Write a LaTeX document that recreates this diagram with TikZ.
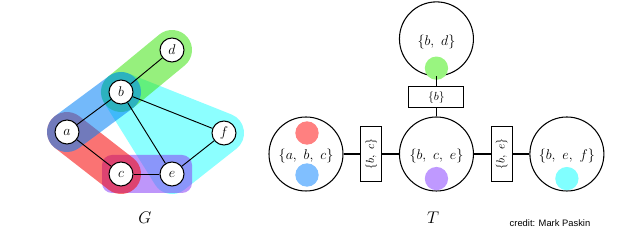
\documentclass[tikz,border=0pt]{standalone}
\usepackage{fontspec}
\newfontfamily\creditfont{Liberation Sans}
\usetikzlibrary{positioning}
\definecolor{hullcyan}{RGB}{140,255,255}
\definecolor{hullgreen}{RGB}{64,228,19}
\definecolor{hullblue}{RGB}{0,128,246}
\definecolor{hullred}{RGB}{246,0,0}
\definecolor{hullpurple}{RGB}{137,64,246}
\definecolor{dotgreen}{RGB}{153,245,128}
\definecolor{dotred}{RGB}{255,128,128}
\definecolor{dotblue}{RGB}{128,191,255}
\definecolor{dotpurple}{RGB}{191,153,255}
\definecolor{dotcyan}{RGB}{128,255,255}
\pgfdeclarelayer{background}
\pgfsetlayers{background,main}

\begin{document}
\begin{tikzpicture}[x=0.03cm,y=0.03cm,
    vertex/.style={circle, draw, line width=0.9pt, fill=white, inner sep=0pt, minimum size=0.72cm, font=\large},
    hull/.style={line width=1.2cm, line cap=round, line join=round, opacity=0.55},
    clique/.style={circle, draw, line width=0.9pt, inner sep=0pt, minimum size=2.22cm},
    sepset/.style={draw, rectangle, line width=0.9pt, inner sep=0pt, minimum width=1.65cm, minimum height=0.63cm},
    dot/.style={circle, inner sep=0pt, minimum size=0.7cm}]
    \useasboundingbox (0,0) rectangle (640,235);

    % Graph G
    \node[vertex] (d) at (172,185) {$d$};
    \node[vertex] (b) at (121,143) {$b$};
    \node[vertex] (a) at (67,103) {$a$};
    \node[vertex] (f) at (224,102) {$f$};
    \node[vertex] (c) at (121,61) {$c$};
    \node[vertex] (e) at (172,61) {$e$};
    \node[font=\Large] (glabel) at (145,17) {$G$};

    % Cliques
    \begin{pgfonlayer}{background}
        \filldraw[hull, opacity=1, draw=hullcyan, fill=hullcyan] (b.center) -- (f.center) -- (e.center) -- cycle;
        \fill[hullpurple, rounded corners=0.3cm, opacity=0.55]
            ([shift={(-19,-19)}]c.center) rectangle ([shift={(20,19)}]e.center);
        \draw[hull, hullred] (a.center) -- (c.center);
        \draw[hull, hullgreen] (b.center) -- (d.center);
        \draw[hull, hullblue] (a.center) -- (b.center);
    \end{pgfonlayer}

    % Edges
    \draw[line width=0.8pt] (b) -- (d);
    \draw[line width=0.8pt] (a) -- (b);
    \draw[line width=0.8pt] (b) -- (f);
    \draw[line width=0.8pt] (b) -- (e);
    \draw[line width=0.8pt] (a) -- (c);
    \draw[line width=0.8pt] (c) -- (e);
    \draw[line width=0.8pt] (e) -- (f);

    % Junction tree T
    \node[clique] (abc) at (306,81) {};
    \node[sepset, rotate=90, right=0.5cm of abc.east, anchor=north] (bc) {$\{b,\ c\}$};
    \node[clique, right=0.5cm of bc.south] (bce) {};
    \node[sepset, rotate=90, right=0.5cm of bce.east, anchor=north] (be) {$\{b,\ e\}$};
    \node[clique, right=0.5cm of be.south] (bef) {};
    \node[sepset, above=0.24cm of bce] (sb) {$\{b\}$};
    \node[clique, above=0.3cm of sb] (bd) {};

    % Clique labels and colours
    \node[font=\large] (bdtext) at ([yshift=-3]bd.center) {$\{b,\ d\}$};
    \node[dot, fill=dotgreen] (bddot) at ([yshift=-25]bd.center) {};
    \node[font=\large] (abctext) at ([yshift=-2]abc.center) {$\{a,\ b,\ c\}$};
    \node[dot, fill=dotred] (abcred) at ([shift={(1,21)}]abc.center) {};
    \node[dot, fill=dotblue] (abcblue) at ([shift={(1,-21)}]abc.center) {};
    \node[font=\large] (bcetext) at ([yshift=-2]bce.center) {$\{b,\ c,\ e\}$};
    \node[dot, fill=dotpurple] (bcedot) at ([yshift=-21]bce.center) {};
    \node[font=\large] (beftext) at ([yshift=-2]bef.center) {$\{b,\ e,\ f\}$};
    \node[dot, fill=dotcyan] (befdot) at ([yshift=-21]bef.center) {};

    % Tree edges
    \draw[line width=0.9pt] (bd) -- (sb);
    \draw[line width=0.9pt] (sb) -- (bce);
    \draw[line width=0.9pt] (abc) -- (bc);
    \draw[line width=0.9pt] (bc) -- (bce);
    \draw[line width=0.9pt] (bce) -- (be);
    \draw[line width=0.9pt] (be) -- (bef);

    \node[font=\Large] (tlabel) at (433,17) {$T$};
    \node[font=\creditfont\fontsize{8}{9}\selectfont] (credit) at (550,12) {credit: Mark Paskin};
\end{tikzpicture}
\end{document}
